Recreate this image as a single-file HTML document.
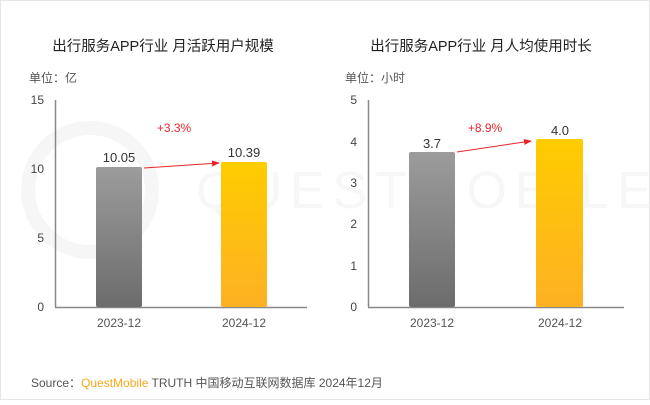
<!DOCTYPE html>
<html><head><meta charset="utf-8"><style>
html,body{margin:0;padding:0;background:#fff}
body{width:650px;height:400px;overflow:hidden}
text{font-family:"Liberation Sans","Noto Sans CJK SC",sans-serif}
</style></head><body>
<svg width="650" height="400" xmlns="http://www.w3.org/2000/svg">
<defs>
<linearGradient id="g" x1="0" y1="0" x2="0" y2="1"><stop offset="0" stop-color="#9c9c9c"/><stop offset="1" stop-color="#6c6c6c"/></linearGradient>
<linearGradient id="y" x1="0" y1="0" x2="0" y2="1"><stop offset="0" stop-color="#ffcc00"/><stop offset="1" stop-color="#fdb123"/></linearGradient>
<marker id="a" markerWidth="8" markerHeight="6" refX="7" refY="3" orient="auto" markerUnits="userSpaceOnUse"><path d="M0,0L8,3L0,6z" fill="#e8262a"/></marker>
</defs>
<rect x="0.5" y="0.5" width="649" height="399" fill="#fff" stroke="#e6e6e6"/>
<!-- watermark -->
<circle cx="90" cy="190" r="62" fill="none" stroke="#f6f6f6" stroke-width="14"/>
<text x="196" y="208" font-size="52" fill="#f7f7f7" letter-spacing="8">QUESTMOBILE</text>
<!-- left chart -->
<text x="163" y="51" font-size="14.5" fill="#222" text-anchor="middle">出行服务APP行业 月活跃用户规模</text>
<text x="29" y="82" font-size="12" fill="#555">单位：亿</text>
<g font-size="12" fill="#444" text-anchor="end">
<text x="44" y="104">15</text><text x="44" y="173">10</text><text x="44" y="242">5</text><text x="44" y="311">0</text></g>
<line x1="55.5" y1="100" x2="55.5" y2="307" stroke="#888" stroke-width="1.5"/>
<line x1="55" y1="307.5" x2="307" y2="307.5" stroke="#888" stroke-width="1.5"/>
<rect x="96" y="167" width="46" height="140" rx="2" fill="url(#g)"/>
<rect x="221" y="162" width="46" height="145" rx="2" fill="url(#y)"/>
<text x="119" y="162" font-size="13" fill="#333" text-anchor="middle">10.05</text>
<text x="244" y="157" font-size="13" fill="#333" text-anchor="middle">10.39</text>
<text x="174" y="132" font-size="12" fill="#e8262a" text-anchor="middle">+3.3%</text>
<line x1="144" y1="168" x2="219" y2="163" stroke="#e8262a" stroke-width="1" marker-end="url(#a)"/>
<g font-size="12" fill="#555" text-anchor="middle"><text x="119" y="327">2023-12</text><text x="244" y="327">2024-12</text></g>
<!-- right chart -->
<text x="481" y="51" font-size="14.5" fill="#222" text-anchor="middle">出行服务APP行业 月人均使用时长</text>
<text x="345" y="82" font-size="12" fill="#555">单位：小时</text>
<g font-size="12" fill="#444" text-anchor="end">
<text x="357" y="104">5</text><text x="357" y="146">4</text><text x="357" y="187">3</text><text x="357" y="228">2</text><text x="357" y="270">1</text><text x="357" y="311">0</text></g>
<line x1="368.5" y1="100" x2="368.5" y2="307" stroke="#888" stroke-width="1.5"/>
<line x1="368" y1="307.5" x2="624" y2="307.5" stroke="#888" stroke-width="1.5"/>
<rect x="409" y="152" width="46" height="155" rx="2" fill="url(#g)"/>
<rect x="536" y="139" width="47" height="168" rx="2" fill="url(#y)"/>
<text x="432" y="148" font-size="13" fill="#333" text-anchor="middle">3.7</text>
<text x="560" y="135" font-size="13" fill="#333" text-anchor="middle">4.0</text>
<text x="485" y="132" font-size="12" fill="#e8262a" text-anchor="middle">+8.9%</text>
<line x1="457" y1="152" x2="531" y2="141" stroke="#e8262a" stroke-width="1" marker-end="url(#a)"/>
<g font-size="12" fill="#555" text-anchor="middle"><text x="432" y="327">2023-12</text><text x="560" y="327">2024-12</text></g>
<!-- source -->
<text x="31" y="387" font-size="12" fill="#555">Source：<tspan fill="#f7a81b">QuestMobile</tspan> TRUTH 中国移动互联网数据库 2024年12月</text>
</svg>
</body></html>
